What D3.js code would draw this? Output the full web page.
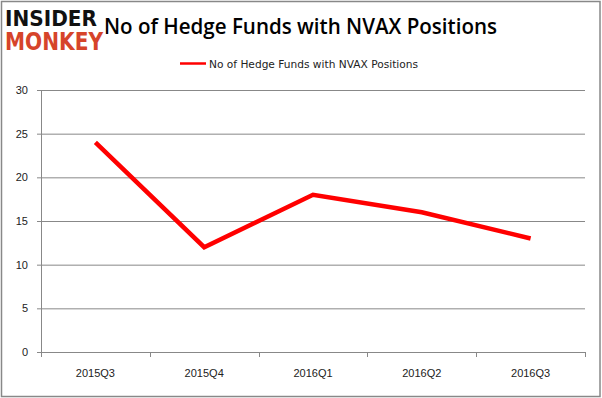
<!DOCTYPE html>
<html>
<head>
<meta charset="utf-8">
<script src="https://cdnjs.cloudflare.com/ajax/libs/d3/7.8.5/d3.min.js"></script>
<style>
  body { margin: 0; background: #fff; }
  svg { display: block; font-family: "DejaVu Sans", sans-serif; }
</style>
</head>
<body>
<div id="chart"></div>
<script>
var width = 602;
var height = 398;

// values
var quarters = ["2015Q3", "2015Q4", "2016Q1", "2016Q2", "2016Q3"];
var funds = [24, 12, 18, 16, 13];
var yTicks = [0, 5, 10, 15, 20, 25, 30];
var seriesName = "No of Hedge Funds with NVAX Positions";

var margin = { top: 90, right: 17, bottom: 46, left: 41 };

var svg = d3.select("#chart").append("svg")
  .attr("width", width).attr("height", height);

svg.append("rect")
  .attr("x", 1.5).attr("y", 1.5)
  .attr("width", width - 3.5).attr("height", height - 3)
  .attr("fill", "#fff").attr("stroke", "#888").attr("stroke-width", 1.5);

var x = d3.scaleBand().domain(quarters).range([margin.left, width - margin.right]);
var y = d3.scaleLinear().domain([0, 30]).range([height - margin.bottom, margin.top]);

// horizontal grid + y axis
var yAxis = svg.append("g")
  .attr("transform", "translate(" + margin.left + ",0)")
  .call(d3.axisLeft(y).tickValues(yTicks).tickSize(-(width - margin.left - margin.right)).tickSizeOuter(0).tickPadding(13));
yAxis.select(".domain").remove();
yAxis.selectAll(".tick line").attr("stroke", "#888").attr("x1", -4);
yAxis.selectAll(".tick text").attr("fill", "#222").style("font-size", "11px");

svg.append("line")
  .attr("x1", margin.left + 0.5).attr("x2", margin.left + 0.5)
  .attr("y1", y(30)).attr("y2", y(0))
  .attr("stroke", "#888");

// x axis
var xAxis = svg.append("g")
  .attr("transform", "translate(0," + y(0) + ")")
  .call(d3.axisBottom(x).tickSize(0).tickPadding(17));
xAxis.select(".domain").attr("stroke", "#888");
xAxis.selectAll(".tick text").attr("fill", "#222").style("font-size", "11px");

var bounds = quarters.map(function(q) { return x(q); }).concat([x.range()[1]]);
xAxis.selectAll(".bound").data(bounds).enter().append("line")
  .attr("x1", function(d) { return Math.round(d) + 0.5; })
  .attr("x2", function(d) { return Math.round(d) + 0.5; })
  .attr("y1", 0).attr("y2", 5)
  .attr("stroke", "#888");

// series line
var line = d3.line()
  .x(function(d, i) { return x(quarters[i]) + x.bandwidth() / 2; })
  .y(function(d) { return y(d); });

svg.append("path")
  .datum(funds)
  .attr("d", line)
  .attr("fill", "none")
  .attr("stroke", "#ff0000")
  .attr("stroke-width", 4.5)
  .attr("stroke-linejoin", "miter");

// legend
svg.append("line")
  .attr("x1", 180).attr("x2", 206).attr("y1", 63.5).attr("y2", 63.5)
  .attr("stroke", "#ff0000").attr("stroke-width", 2.5);
svg.append("text")
  .attr("x", 209).attr("y", 67.5)
  .attr("fill", "#222")
  .style("font-size", "11px")
  .attr("textLength", 209).attr("lengthAdjust", "spacingAndGlyphs")
  .text(seriesName);

// title
svg.append("text")
  .attr("x", 104).attr("y", 33.5)
  .attr("fill", "#000")
  .style("font-family", "'Open Sans', sans-serif")
  .style("font-size", "21px")
  .style("font-weight", "600")
  .attr("textLength", 393).attr("lengthAdjust", "spacingAndGlyphs")
  .text(seriesName);

// logo, one text block with two lines
var logo = svg.append("g");
logo.append("rect").attr("x", 3).attr("y", 6).attr("width", 101).attr("height", 46).attr("fill", "#fff");
var logoText = logo.append("text").style("font-weight", "bold");
logoText.append("tspan")
  .attr("x", 5).attr("y", 25.5)
  .attr("fill", "#111")
  .style("font-size", "20.5px")
  .attr("textLength", 92).attr("lengthAdjust", "spacingAndGlyphs")
  .text("INSIDER");
logoText.append("tspan")
  .attr("x", 5).attr("y", 49.5)
  .attr("fill", "#d6442a")
  .style("font-size", "24.5px")
  .attr("textLength", 98).attr("lengthAdjust", "spacingAndGlyphs")
  .text("MONKEY");
</script>
</body>
</html>
